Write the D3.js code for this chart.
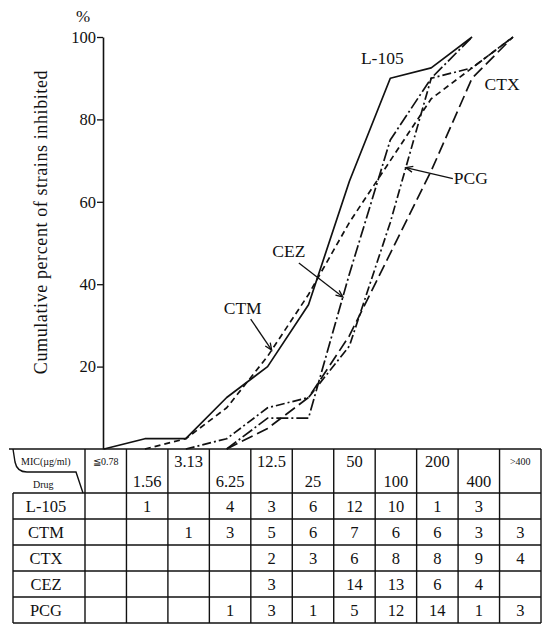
<!DOCTYPE html>
<html>
<head>
<meta charset="utf-8">
<script src="https://cdn.jsdelivr.net/npm/d3@7"></script>
<style>
  html, body { margin: 0; padding: 0; background: #fff; }
  svg { display: block; }
  text { font-family: "Liberation Serif", "DejaVu Serif", serif; fill: #111; }
</style>
</head>
<body>
<svg id="chart" width="548" height="624"></svg>
<script>
// MIC breakpoints (µg/ml) used as columns of the table and x positions of the curves
const mics = ["≦0.78", "1.56", "3.13", "6.25", "12.5", "25", "50", "100", "200", "400", ">400"];
const drugs = ["L-105", "CTM", "CTX", "CEZ", "PCG"];

// Number of strains inhibited at each MIC (blank cells are null)
const countsL105 = [null, 1, null, 4, 3, 6, 12, 10, 1, 3, null];
const countsCTM  = [null, null, 1, 3, 5, 6, 7, 6, 6, 3, 3];
const countsCTX  = [null, null, null, null, 2, 3, 6, 8, 8, 9, 4];
const countsCEZ  = [null, null, null, null, 3, null, 14, 13, 6, 4, null];
const countsPCG  = [null, null, null, 1, 3, 1, 5, 12, 14, 1, 3];

const yTicks = [20, 40, 60, 80, 100];

const countsByDrug = {
  "L-105": countsL105, "CTM": countsCTM, "CTX": countsCTX, "CEZ": countsCEZ, "PCG": countsPCG
};

// stroke patterns per drug
const dashes = {
  "L-105": null,
  "CTM": "6,4",
  "CTX": "12,5",
  "CEZ": "12,3,2,3",
  "PCG": "9,3,2,3"
};

const svg = d3.select("#chart");

// ---------- plot scales ----------
const x = d3.scalePoint().domain(mics).range([104, 513]);
const y = d3.scaleLinear().domain([0, 100]).range([449, 37]);

// cumulative percent curve for one drug, from the last empty MIC before
// the first inhibited strain up to the MIC where all strains are inhibited
function cumulative(drug) {
  const c = countsByDrug[drug].map(v => v || 0);
  const total = d3.sum(c);
  const cum = Array.from(d3.cumsum(c));
  const first = c.findIndex(v => v > 0);
  const last = cum.findIndex(v => v >= total);
  const pts = [];
  for (let i = Math.max(0, first - 1); i <= last; i++) {
    pts.push({ mic: mics[i], i, pct: cum[i] / total * 100 });
  }
  return pts;
}

const series = drugs.map(d => ({ drug: d, points: cumulative(d) }));

// ---------- y axis ----------
const yAxis = d3.axisLeft(y).tickValues(yTicks).tickSize(6).tickSizeOuter(0).tickPadding(1);
const gAxis = svg.append("g").attr("transform", `translate(${x(mics[0]) - 1},0)`).call(yAxis);
gAxis.select(".domain").attr("stroke", "#111").attr("stroke-width", 1.6);
gAxis.selectAll(".tick line").attr("stroke", "#111").attr("stroke-width", 1.3);
gAxis.selectAll(".tick text")
  .attr("font-family", "Liberation Serif, serif")
  .attr("font-size", 16.5)
  .attr("fill", "#111");

svg.append("text")
  .attr("x", 83).attr("y", 22)
  .attr("text-anchor", "middle")
  .attr("font-size", 17)
  .text("%");

svg.append("text")
  .attr("transform", "translate(47,222) rotate(-90)")
  .attr("text-anchor", "middle")
  .attr("font-size", 18)
  .attr("letter-spacing", 0.6)
  .text("Cumulative percent of strains inhibited");

// ---------- curves ----------
const line = d3.line().x(p => x(p.mic)).y(p => y(p.pct));

svg.append("g").selectAll("path")
  .data(series)
  .join("path")
  .attr("d", s => line(s.points))
  .attr("fill", "none")
  .attr("stroke", "#111")
  .attr("stroke-width", 1.7)
  .attr("stroke-linejoin", "round")
  .attr("stroke-dasharray", s => dashes[s.drug]);

// ---------- curve labels ----------
svg.append("defs").append("marker")
  .attr("id", "arrowhead")
  .attr("viewBox", "-8 -4 10 8")
  .attr("refX", 0).attr("refY", 0)
  .attr("markerWidth", 10).attr("markerHeight", 8)
  .attr("markerUnits", "userSpaceOnUse")
  .attr("orient", "auto")
  .append("path")
  .attr("d", "M-7,-3 L0,0 L-7,3")
  .attr("fill", "none")
  .attr("stroke", "#111")
  .attr("stroke-width", 1.3);

// point at fraction t along the segment starting at MIC index i
function along(drug, i, t) {
  const pts = series.find(s => s.drug === drug).points;
  const a = pts.find(p => p.i === i), b = pts.find(p => p.i === i + 1);
  return [x(a.mic) + t * (x(b.mic) - x(a.mic)), y(a.pct) + t * (y(b.pct) - y(a.pct))];
}

const labels = [
  { drug: "L-105", seg: 7, t: 0,    dx: -8,  dy: -14, anchor: "middle", arrow: null },
  { drug: "CTX",   seg: 9, t: 0,    dx: 30,  dy: 12,  anchor: "middle", arrow: null },
  { drug: "PCG",   seg: 7, t: 0.38, dx: 65,  dy: 16,  anchor: "middle", arrow: [47, 11] },
  { drug: "CEZ",   seg: 5, t: 0.84, dx: -54, dy: -40, anchor: "middle", arrow: [-44, -34] },
  { drug: "CTM",   seg: 4, t: 0.1,  dx: -29, dy: -36, anchor: "middle", arrow: [-21, -31] }
];

labels.forEach(l => {
  const [px, py] = along(l.drug, l.seg, l.t);
  if (l.arrow) {
    svg.append("line")
      .attr("x1", px + l.arrow[0]).attr("y1", py + l.arrow[1])
      .attr("x2", px).attr("y2", py)
      .attr("stroke", "#111").attr("stroke-width", 1.3)
      .attr("marker-end", "url(#arrowhead)");
  }
  svg.append("text")
    .attr("x", px + l.dx).attr("y", py + l.dy)
    .attr("text-anchor", l.anchor)
    .attr("font-size", 17.5)
    .text(l.drug);
});

// ---------- table ----------
const tableTop = 449, headH = 44, rowH = 26, tableLeft = 13;
const col = d3.scaleBand().domain(mics).range([85, 541]);
const rowY = d3.scaleBand().domain(drugs).range([tableTop + headH, tableTop + headH + rowH * drugs.length]);
const tableBottom = rowY.range()[1];
const gT = svg.append("g").attr("stroke", "#111").attr("stroke-width", 1.4);

// horizontal rules
gT.append("line").attr("x1", tableLeft - 4).attr("x2", col.range()[1]).attr("y1", tableTop).attr("y2", tableTop);
drugs.forEach(d => {
  gT.append("line").attr("x1", tableLeft).attr("x2", col.range()[1])
    .attr("y1", rowY(d)).attr("y2", rowY(d));
});
gT.append("line").attr("x1", tableLeft).attr("x2", col.range()[1]).attr("y1", tableBottom).attr("y2", tableBottom);

// vertical rules
gT.append("line").attr("x1", tableLeft).attr("x2", tableLeft).attr("y1", rowY(drugs[0])).attr("y2", tableBottom);
mics.forEach(m => {
  gT.append("line").attr("x1", col(m)).attr("x2", col(m)).attr("y1", tableTop).attr("y2", tableBottom);
});
gT.append("line").attr("x1", col.range()[1]).attr("x2", col.range()[1]).attr("y1", tableTop).attr("y2", tableBottom);

// corner cell divider
gT.append("path")
  .attr("fill", "none")
  .attr("d", `M${tableLeft},${tableTop} L${tableLeft + 2},${tableTop + 13} Q${tableLeft + 4},${tableTop + 23} ${tableLeft + 14},${tableTop + 23} L${tableLeft + 63},${tableTop + 23} L${col(mics[0]) - 2},${tableTop + headH}`);

svg.append("text").attr("x", 21).attr("y", tableTop + 16)
  .attr("font-size", 10).text("MIC(µg/ml)");
svg.append("text").attr("x", 33).attr("y", tableTop + 39)
  .attr("font-size", 10).text("Drug");

// MIC header, staggered between upper and lower lines
mics.forEach((m, i) => {
  const small = i === 0 || i === mics.length - 1;
  svg.append("text")
    .attr("x", col(m) + col.bandwidth() / 2)
    .attr("y", i % 2 === 0 ? (small ? tableTop + 16 : tableTop + 18) : tableTop + 38)
    .attr("text-anchor", "middle")
    .attr("font-size", small ? 10 : 16.5)
    .attr("fill", i === mics.length - 1 ? "#777" : "#111")
    .text(m);
});

// drug rows
drugs.forEach(d => {
  const yb = rowY(d) + 19;
  svg.append("text")
    .attr("x", (tableLeft + col(mics[0])) / 2 - 3).attr("y", yb)
    .attr("text-anchor", "middle")
    .attr("font-size", 16.5)
    .text(d);
  countsByDrug[d].forEach((v, i) => {
    if (v == null) return;
    svg.append("text")
      .attr("x", col(mics[i]) + col.bandwidth() / 2).attr("y", yb)
      .attr("text-anchor", "middle")
      .attr("font-size", 16.5)
      .text(v);
  });
});
</script>
</body>
</html>
